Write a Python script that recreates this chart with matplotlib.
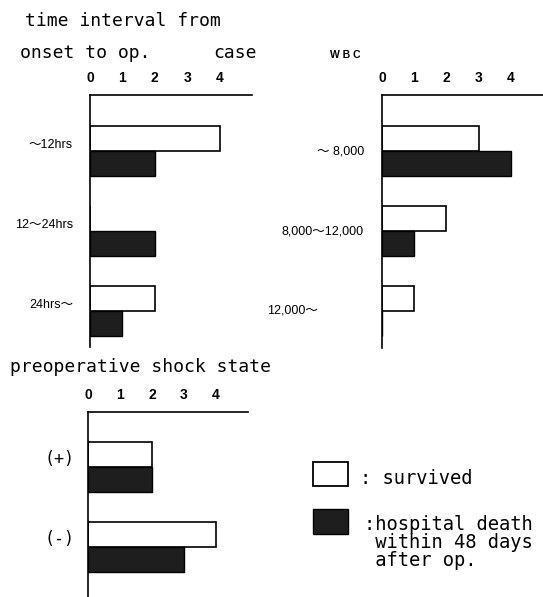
import matplotlib
matplotlib.use("Agg")
import matplotlib.pyplot as plt
from matplotlib.patches import Rectangle
from matplotlib.transforms import blended_transform_factory

# time interval from onset to op.
time_cats = ["〜12hrs", "12〜24hrs", "24hrs〜"]
time_survived = [4, 0, 2]
time_death = [2, 2, 1]

# WBC
wbc_cats = ["〜 8,000", "8,000〜12,000", "12,000〜"]
wbc_survived = [3, 2, 1]
wbc_death = [4, 1, 0]

# preoperative shock state
shock_cats = ["(+)", "(-)"]
shock_survived = [2, 4]
shock_death = [2, 3]

case_ticks = [0, 1, 2, 3, 4]

W, H = 543, 597
MONO = "DejaVu Sans Mono"
SANS = ["Liberation Sans", "Noto Sans CJK JP"]
BAR_H = 0.31
UNIT = 80  # pixels per category step
DARK = "#1e1e1e"

fig = plt.figure(figsize=(W / 100, H / 100), dpi=100)


def panel(x0, x1, y0, y1, first, cats, surv, death, label_pad, dy,
          left_labels=(), lab_font=SANS, lab_size=9):
    ax = fig.add_axes([x0 / W, 1 - y1 / H, (x1 - x0) / W, (y1 - y0) / H])
    pos = list(range(len(cats)))
    ax.barh([i - BAR_H for i in pos], surv, height=BAR_H, align="edge",
            color="white", edgecolor="black", linewidth=1.2)
    ax.barh(pos, death, height=BAR_H, align="edge",
            color=DARK, edgecolor="black", linewidth=1.0)
    ax.set_xlim(0, 5)
    top = -first / UNIT
    ax.set_ylim(top + (y1 - y0) / UNIT, top)

    for s in ("right", "bottom"):
        ax.spines[s].set_visible(False)
    for s in ("top", "left"):
        ax.spines[s].set_linewidth(1.2)

    ax.xaxis.tick_top()
    ax.set_xticks(case_ticks)
    ax.set_xticklabels([str(t) for t in case_ticks], fontsize=10,
                       fontweight="bold", family="Liberation Sans")
    ax.tick_params(axis="x", length=0, pad=7)
    ax.set_yticks([])

    trans = blended_transform_factory(ax.transAxes, ax.transData)
    for i, c in enumerate(cats):
        if i in left_labels:
            x, ha = left_labels[i] / (x1 - x0), "left"
        else:
            x, ha = -label_pad / (x1 - x0), "right"
        ax.text(x, i + dy, c, transform=trans, ha=ha, va="center",
                fontsize=lab_size, family=lab_font)
    return ax


panel(90, 252, 95, 347, 56, time_cats, time_survived, time_death, 17, -0.08)
panel(382, 543, 95, 348, 56, wbc_cats, wbc_survived, wbc_death, 18, 0.0,
      left_labels={2: 267 - 382})
panel(88, 248, 412, 597, 55, shock_cats, shock_survived, shock_death, 13, -0.1,
      lab_font=MONO, lab_size=12)

# headings
fig.text(25 / W, 1 - 26 / H, "time interval from", family=MONO, fontsize=13, va="baseline")
fig.text(20 / W, 1 - 58 / H, "onset to op.", family=MONO, fontsize=13, va="baseline")
fig.text(213 / W, 1 - 58 / H, "case", family=MONO, fontsize=13, va="baseline")
fig.text(330 / W, 1 - 58 / H, "W B C", family="Liberation Sans", fontsize=7.5,
         fontweight="bold", va="baseline")
fig.text(10 / W, 1 - 372 / H, "preoperative shock state", family=MONO, fontsize=13,
         va="baseline")

# legend
fig.patches.append(Rectangle((313 / W, 1 - 486 / H), 35 / W, 24 / H,
                             transform=fig.transFigure, facecolor="white",
                             edgecolor="black", linewidth=1.3))
fig.patches.append(Rectangle((313 / W, 1 - 534 / H), 35 / W, 25 / H,
                             transform=fig.transFigure, facecolor=DARK,
                             edgecolor="black", linewidth=1.0))
fig.text(360 / W, 1 - 484 / H, ": survived", family=MONO, fontsize=13.5, va="baseline")
fig.text(364 / W, 1 - 530 / H, ":hospital death", family=MONO, fontsize=13.5, va="baseline")
fig.text(364 / W, 1 - 548 / H, " within 48 days", family=MONO, fontsize=13.5, va="baseline")
fig.text(364 / W, 1 - 566 / H, " after op.", family=MONO, fontsize=13.5, va="baseline")

fig.savefig("out.png", dpi=100)
